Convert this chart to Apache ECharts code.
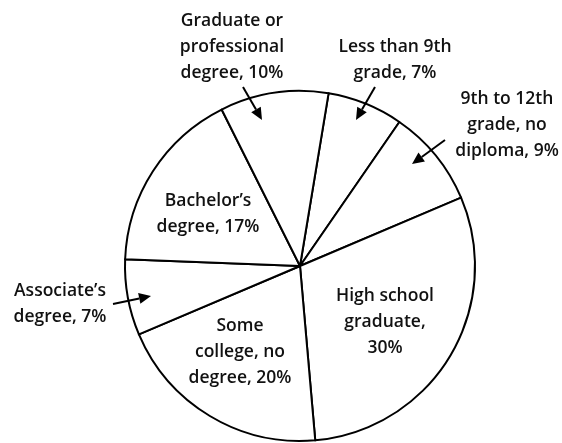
<!DOCTYPE html>
<html>
<head>
<meta charset="utf-8">
<script src="https://cdn.jsdelivr.net/npm/echarts@6/dist/echarts.min.js"></script>
<style>
  html, body { margin: 0; padding: 0; background: #fff; }
  #main { width: 562px; height: 443px; }
</style>
</head>
<body>
<div id="main"></div>
<script>
// education shares, clockwise from "Less than 9th grade"
var categories = ['Less than 9th grade', '9th to 12th grade, no diploma', 'High school graduate',
  'Some college, no degree', 'Associate\u2019s degree', 'Bachelor\u2019s degree', 'Graduate or professional degree'];
var shares = [7, 9, 30, 20, 7, 17, 10];
var labels = ['Less than 9th\ngrade, 7%', '9th to 12th\ngrade, no\ndiploma, 9%', 'High school\ngraduate,\n30%',
  'Some\ncollege, no\ndegree, 20%', 'Associate\u2019s\ndegree, 7%', 'Bachelor\u2019s\ndegree, 17%', 'Graduate or\nprofessional\ndegree, 10%'];

// where each label block sits (centre), and the arrows for the outside ones
var labelPos = [[395, 60], [507, 125], [385, 322], [240, 352], [60, 304], [208, 214], [232, 47]];
var arrows = [[243, 87, 262, 120], [375, 87, 356, 120], [445, 140, 412, 164], [113, 304, 151, 296]];

var chart = echarts.init(document.getElementById('main'));

function arrow(a) {
  var dx = a[2] - a[0], dy = a[3] - a[1];
  var len = Math.sqrt(dx * dx + dy * dy);
  var ux = dx / len, uy = dy / len;
  var hl = 12, hw = 5.5;
  var bx = a[2] - ux * hl, by = a[3] - uy * hl;
  return [{
    type: 'line',
    z: 100,
    shape: { x1: a[0], y1: a[1], x2: bx, y2: by },
    style: { stroke: '#000', lineWidth: 2 }
  }, {
    type: 'polygon',
    z: 100,
    shape: { points: [[a[2], a[3]], [bx - uy * hw, by + ux * hw], [bx + uy * hw, by - ux * hw]] },
    style: { fill: '#000' }
  }];
}

var graphics = [];
arrows.forEach(function (a) { graphics = graphics.concat(arrow(a)); });

var data = [];
for (var i = 0; i < categories.length; i++) {
  data.push({ name: categories[i], value: shares[i] });
}

chart.setOption({
  backgroundColor: '#fff',
  animation: false,
  graphic: graphics,
  series: [{
    type: 'pie',
    center: [300, 266],
    radius: [0, 175],
    startAngle: 80.6,
    clockwise: true,
    silent: true,
    data: data,
    itemStyle: { color: '#fff', borderColor: '#000', borderWidth: 2 },
    label: {
      show: true,
      position: 'inside',
      color: '#111',
      fontFamily: 'Open Sans',
      fontWeight: 600,
      fontSize: 17.5,
      lineHeight: 26,
      align: 'center',
      formatter: function (p) { return labels[p.dataIndex]; }
    },
    labelLine: { show: false },
    labelLayout: function (params) {
      var p = labelPos[params.dataIndex];
      return { x: p[0], y: p[1], align: 'center', verticalAlign: 'middle' };
    }
  }]
});
</script>
</body>
</html>
